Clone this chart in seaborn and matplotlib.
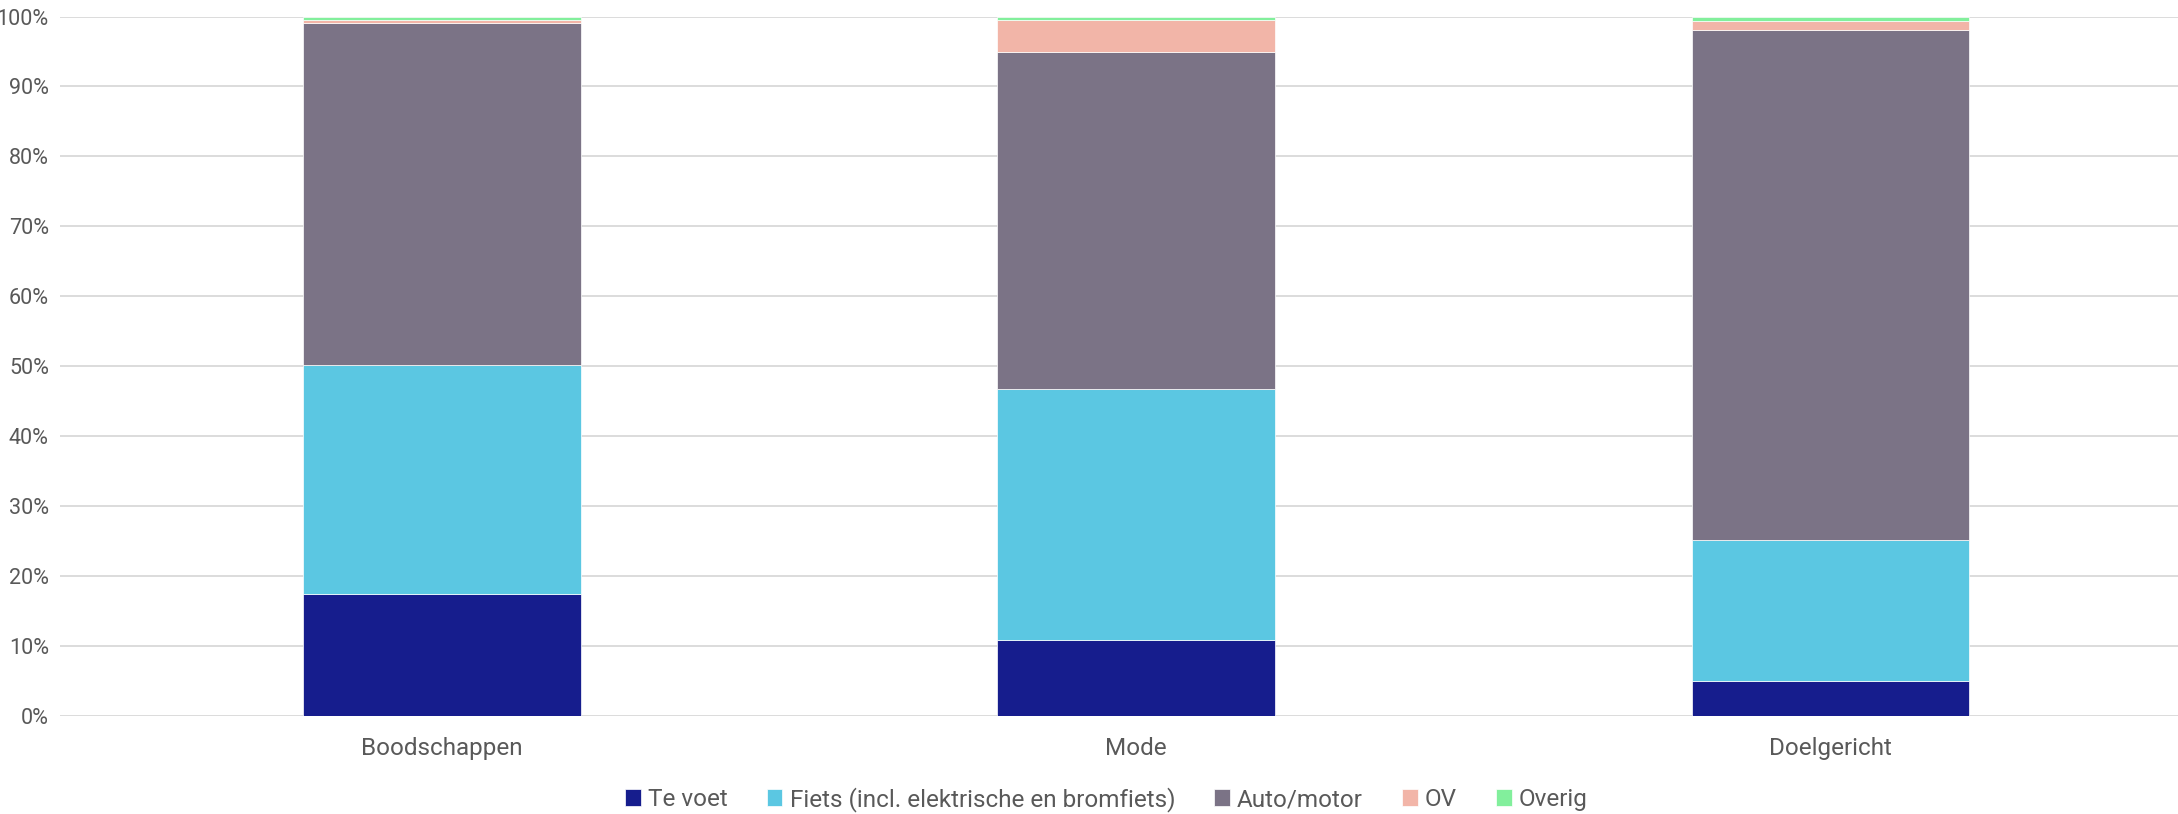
import numpy as np
import pandas as pd
import matplotlib
matplotlib.use("Agg")
import matplotlib.pyplot as plt
import seaborn as sns
from matplotlib.ticker import PercentFormatter

# share of trips per mode (%)
categories = ["Boodschappen", "Mode", "Doelgericht"]
te_voet = [17.5, 10.8, 5.0]
fiets = [32.7, 36.0, 20.1]
auto_motor = [48.9, 48.1, 73.0]
ov = [0.4, 4.6, 1.3]
overig = [0.5, 0.5, 0.6]

series = ["Te voet", "Fiets (incl. elektrische en bromfiets)", "Auto/motor", "OV", "Overig"]
colors = ["#161d8d", "#5bc7e2", "#7b7386", "#f2b5a8", "#82ef9c"]

df = pd.DataFrame({
    "cat": categories,
    series[0]: te_voet,
    series[1]: fiets,
    series[2]: auto_motor,
    series[3]: ov,
    series[4]: overig,
})

sns.set_theme(style="white")
plt.rcParams["font.family"] = ["Roboto", "DejaVu Sans"]
text_col = "#595959"

fig = plt.figure(figsize=(21.78, 8.14), dpi=100)
ax = fig.add_axes([0.0275, 0.1204, 0.9725, 0.8593])

bottom = np.zeros(len(categories))
for name, col in zip(series, colors):
    vals = df[name].values
    sns.barplot(x=df["cat"], y=vals, bottom=bottom, color=col, width=0.4,
                saturation=1, label=name, ax=ax, edgecolor="white",
                linewidth=0.5, zorder=3)
    bottom = bottom + vals

ax.set_ylim(0, 100)
ax.set_xlim(-0.551, 2.501)
ax.yaxis.set_major_locator(plt.MultipleLocator(10))
ax.yaxis.set_major_formatter(PercentFormatter(decimals=0))
ax.grid(axis="y", color="#d9d9d9", linewidth=1.3, zorder=0)
for s in ax.spines.values():
    s.set_visible(False)
ax.set_xlabel("")
ax.set_ylabel("")
ax.tick_params(axis="x", colors=text_col, labelsize=17.5, length=0, pad=15)
ax.tick_params(axis="y", colors=text_col, labelsize=15.5, length=0, pad=8)

handles, labels = ax.get_legend_handles_labels()
ax.legend().remove()
leg = fig.legend(handles, labels, loc="lower center", bbox_to_anchor=(0.508, -0.012),
                 ncol=5, frameon=False, fontsize=17.5, handlelength=0.65,
                 handleheight=0.65, handletextpad=0.3, columnspacing=1.6,
                 borderaxespad=0.1)
for t in leg.get_texts():
    t.set_color(text_col)

fig.savefig("out.png", dpi=100)
